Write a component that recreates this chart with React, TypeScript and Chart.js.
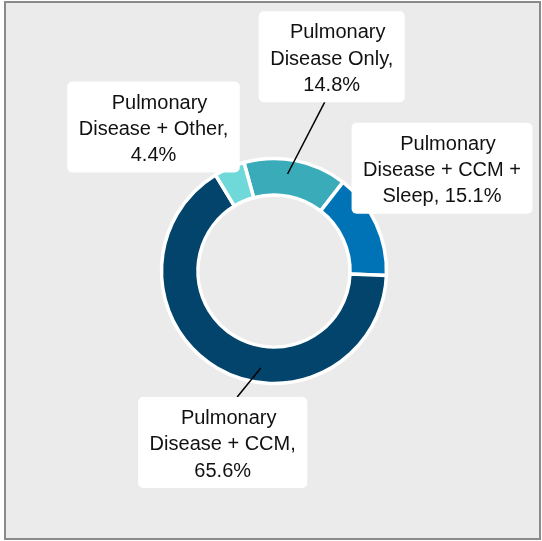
import React, { useEffect, useRef } from "react";
import { Chart, registerables } from "chart.js";

Chart.register(...registerables);

// ---- data ----
const categories = [
  "Pulmonary Disease Only",
  "Pulmonary Disease + CCM + Sleep",
  "Pulmonary Disease + CCM",
  "Pulmonary Disease + Other",
];
const shares = [14.8, 15.1, 65.6, 4.4];
const sliceColors = ["#3aabb8", "#0073b7", "#02446c", "#6fd8d9"];

// ---- layout (label box centre offsets from donut centre, px) ----
const labelOffsets = [
  { dx: 57.7, dy: -214.3 },
  { dx: 168, dy: -102.7 },
  { dx: -51.3, dy: 171.5 },
  { dx: -120.5, dy: -144 },
];
// leader lines: position along the arc (0..1), radial position in ring (0..1), box edge, x offset on edge
const leaders = [
  { along: 0.44, radial: 0.6, edge: "bottom", ex: -7 },
  null,
  { along: 0.404, radial: 0.6, edge: "top", ex: 14.5 },
  null,
];

const FONT = '20px "Liberation Sans", Arial, sans-serif';
const LINE_H = 26.3;
const WRAP_W = 162;
const PAD_X = 11.5;
const BOX_H = 91;

function wrap(ctx: CanvasRenderingContext2D, text: string, maxW: number): string[] {
  const words = text.split(" ");
  const lines: string[] = [];
  let cur = "";
  for (const w of words) {
    const t = cur ? cur + " " + w : w;
    if (cur && ctx.measureText(t).width > maxW) {
      lines.push(cur);
      cur = w;
    } else cur = t;
  }
  if (cur) lines.push(cur);
  return lines;
}

const framePlugin = {
  id: "frame",
  beforeDraw(chart: any) {
    const ctx = chart.ctx as CanvasRenderingContext2D;
    ctx.save();
    ctx.fillStyle = "#ebebeb";
    ctx.fillRect(5, 2, 535, 537);
    ctx.strokeStyle = "#8a8a8a";
    ctx.lineWidth = 2;
    ctx.strokeRect(5, 2, 535, 537);
    ctx.restore();
  },
  afterDatasetsDraw(chart: any) {
    const ctx = chart.ctx as CanvasRenderingContext2D;
    const meta = chart.getDatasetMeta(0);
    ctx.save();
    ctx.font = FONT;
    meta.data.forEach((el: any, i: number) => {
      const p = el.getProps(["x", "y", "startAngle", "endAngle", "innerRadius", "outerRadius"], true);
      const text = `${categories[i]}, ${shares[i].toFixed(1)}%`;
      const lines = wrap(ctx, text, WRAP_W);
      const maxW = Math.max(...lines.map((l) => ctx.measureText(l).width));
      const w = maxW + PAD_X * 2;
      const cx = p.x + labelOffsets[i].dx;
      const cy = p.y + labelOffsets[i].dy;
      const top = cy - BOX_H / 2;
      const left = cx - w / 2;

      const ld = leaders[i];
      if (ld) {
        const a = p.startAngle + (p.endAngle - p.startAngle) * ld.along;
        const r = p.innerRadius + (p.outerRadius - p.innerRadius) * ld.radial;
        const ax = p.x + Math.cos(a) * r;
        const ay = p.y + Math.sin(a) * r;
        const bx = cx + ld.ex;
        const by = ld.edge === "bottom" ? top + BOX_H : top;
        ctx.beginPath();
        ctx.moveTo(bx, by);
        ctx.lineTo(ax, ay);
        ctx.strokeStyle = "#000";
        ctx.lineWidth = 1.5;
        ctx.stroke();
      }

      ctx.beginPath();
      (ctx as any).roundRect(left, top, w, BOX_H, 5);
      ctx.fillStyle = "#ffffff";
      ctx.fill();

      ctx.fillStyle = "#111";
      ctx.textAlign = "center";
      ctx.textBaseline = "alphabetic";
      lines.forEach((ln, k) => {
        const shift = k === 0 ? 6 : 0;
        ctx.fillText(ln, cx + shift, top + 27 + k * LINE_H);
      });
    });
    ctx.restore();
  },
};

export default function App() {
  const ref = useRef<HTMLCanvasElement | null>(null);
  useEffect(() => {
    if (!ref.current) return;
    const chart = new Chart(ref.current, {
      type: "doughnut",
      data: {
        labels: categories,
        datasets: [
          {
            data: shares,
            backgroundColor: sliceColors,
            borderColor: "#ffffff",
            borderWidth: 3.5,
            borderJoinStyle: "miter",
          } as any,
        ],
      },
      options: {
        responsive: false,
        animation: false,
        devicePixelRatio: 1,
        rotation: -15.5,
        radius: 112.5,
        cutout: "67.6%",
        layout: { padding: { left: 6, right: 0, top: 1, bottom: 0 } },
        plugins: {
          legend: { display: false },
          tooltip: { enabled: false },
        },
      } as any,
      plugins: [framePlugin],
    });
    return () => chart.destroy();
  }, []);
  return (
    <div style={{ position: "absolute", left: 0, top: 0, width: 542, height: 541 }}>
      <canvas ref={ref} width={542} height={541} style={{ display: "block" }} />
    </div>
  );
}
